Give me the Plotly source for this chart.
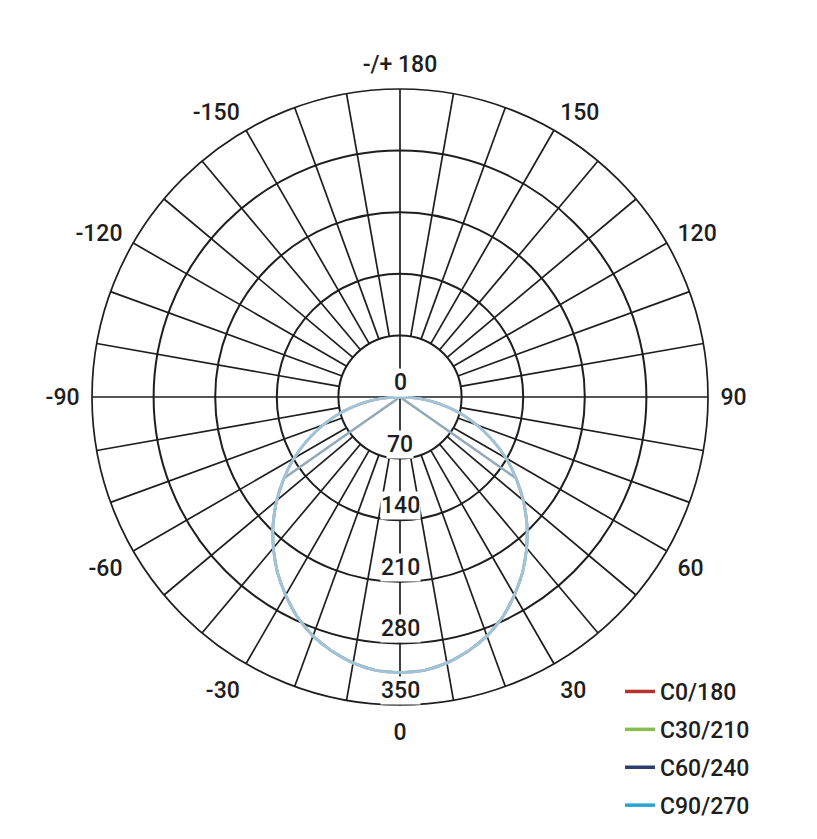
import plotly.graph_objects as go

# ---- data -------------------------------------------------------------
gamma = [-90, -85, -80, -75, -70, -65, -60, -55, -50, -45, -40, -35, -30, -25, -20, -15, -10, -5,
         0, 5, 10, 15, 20, 25, 30, 35, 40, 45, 50, 55, 60, 65, 70, 75, 80, 85, 90]

c0_180 = [0, 23, 47, 70, 93, 116, 139, 161, 183, 204, 224, 243, 260, 276, 289, 299, 307, 312,
          313, 312, 307, 299, 289, 276, 260, 243, 224, 204, 183, 161, 139, 116, 93, 70, 47, 23, 0]
c30_210 = [0, 23, 47, 70, 93, 116, 139, 161, 183, 204, 224, 243, 260, 276, 289, 299, 307, 312,
           313, 312, 307, 299, 289, 276, 260, 243, 224, 204, 183, 161, 139, 116, 93, 70, 47, 23, 0]
c60_240 = [0, 0, 0, 0, 0, 0, 0, 161, 183, 204, 224, 243, 260, 276, 289, 299, 307, 312,
           313, 312, 307, 299, 289, 276, 260, 243, 224, 204, 183, 161, 0, 0, 0, 0, 0, 0, 0]
c90_270 = [0, 23, 47, 70, 93, 116, 139, 161, 183, 204, 224, 243, 260, 276, 289, 299, 307, 312,
           313, 312, 307, 299, 289, 276, 260, 243, 224, 204, 183, 161, 139, 116, 93, 70, 47, 23, 0]

series_names = ["C0/180", "C30/210", "C60/240", "C90/270"]
legend_colors = ["#b8322a", "#8bbd4c", "#2c3f6c", "#2aa3d8"]

angle_tickvals = [0, 30, 60, 90, 120, 150, 180, 210, 240, 270, 300, 330]
angle_ticktext = ["0", "30", "60", "90", "120", "150", "-/+ 180", "-150", "-120", "-90", "-60", "-30"]

radial_tickvals = [0, 70, 140, 210, 280, 350]
radial_ticktext = ["0", "70", "140", "210", "280", "350"]

spoke_angles = list(range(0, 360, 10))
axis_angles = [0, 90, 180, 270]

# ---- style ------------------------------------------------------------
FONT = "Roboto"
INK = "#1e1e1e"
PAGE_OFF = 8                     # default page margin of the html body
W, H = 817 - PAGE_OFF, 839 - PAGE_OFF
CX, CY, RAD = 400 - PAGE_OFF, 397 - PAGE_OFF, 308
RMAX = 350
FSIZE = 23
tfont = dict(family=FONT, size=FSIZE, color=INK, weight=500)

curve_colors = ["#9dbccd", "#9dbccd", "#91a9b9", "#a2c2d5"]
curve_shapes = ["spline", "spline", "linear", "spline"]

fig = go.Figure()

# grid spokes (start at the first ring, main axes pass through the centre)
sr, st = [], []
for a in spoke_angles:
    r0 = 0 if a in axis_angles else radial_tickvals[1]
    sr += [r0, RMAX, None]
    st += [a, a, None]
fig.add_trace(go.Scatterpolar(r=sr, theta=st, mode="lines",
                              line=dict(color=INK, width=1.7),
                              hoverinfo="skip", showlegend=False))

# curves
all_series = [c0_180, c30_210, c60_240, c90_270]
draw_order = [2, 0, 1, 3]
for i in draw_order:
    fig.add_trace(go.Scatterpolar(r=all_series[i], theta=gamma, mode="lines",
                                  line=dict(color=curve_colors[i], width=2.6,
                                            shape=curve_shapes[i], smoothing=0.8),
                                  legendgroup=series_names[i], showlegend=False,
                                  name=series_names[i]))

# legend entries
for i, nm in enumerate(series_names):
    fig.add_trace(go.Scatterpolar(r=[None], theta=[None], mode="lines",
                                  line=dict(color=legend_colors[i], width=3.5),
                                  legendgroup=nm, name=nm, showlegend=True))

# radial labels with white background
for v, t in zip(radial_tickvals, radial_ticktext):
    ypix = CY + v / RMAX * RAD
    fig.add_annotation(x=CX / W, y=1 - ypix / H, xref="paper", yref="paper",
                       text=t, showarrow=False, xanchor="center", yanchor="bottom",
                       bgcolor="white", borderpad=0, font=tfont)

fig.update_layout(
    width=W, height=H,
    margin=dict(l=0, r=0, t=0, b=0),
    paper_bgcolor="white",
    font=tfont,
    polar=dict(
        domain=dict(x=[(CX - RAD) / W, (CX + RAD) / W],
                    y=[1 - (CY + RAD) / H, 1 - (CY - RAD) / H]),
        bgcolor="white",
        angularaxis=dict(rotation=270, direction="counterclockwise",
                         tickmode="array", tickvals=angle_tickvals, ticktext=angle_ticktext,
                         showgrid=False, showline=True, linecolor=INK, linewidth=1.7,
                         ticks="outside", ticklen=7, tickcolor="rgba(0,0,0,0)",
                         tickfont=tfont),
        radialaxis=dict(range=[0, RMAX], tickmode="array", tickvals=radial_tickvals[1:],
                        showticklabels=False, showline=False, ticks="",
                        gridcolor=INK, gridwidth=1.7),
    ),
    legend=dict(x=612 / W, y=1 - 662 / H, xanchor="left", yanchor="top",
                traceorder="grouped", tracegroupgap=5,
                font=tfont, bgcolor="rgba(0,0,0,0)"),
    showlegend=True,
)

fig.write_html("out.html")
